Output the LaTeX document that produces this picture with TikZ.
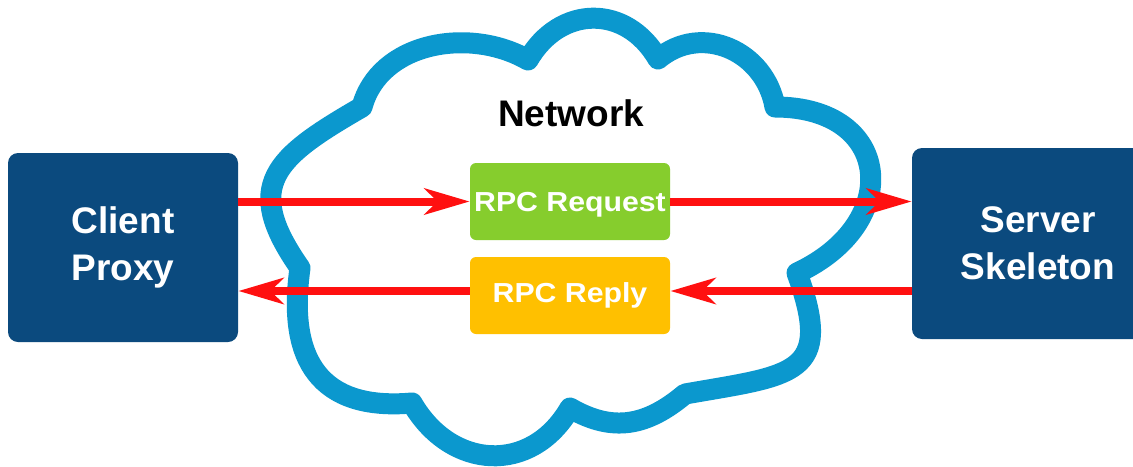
\documentclass[tikz,border=0pt]{standalone}
\usepackage{fontspec}
\usepackage{graphicx}
\setmainfont{Liberation Sans}
\usetikzlibrary{arrows.meta,calc}
\definecolor{boxblue}{HTML}{0B4A7E}
\definecolor{cloudblue}{HTML}{0B98CE}
\definecolor{reqgreen}{HTML}{86CD2D}
\definecolor{repyellow}{HTML}{FFC000}
\definecolor{arrred}{HTML}{FF1010}
\begin{document}
\begin{tikzpicture}[x=0.5pt,y=0.5pt,
  endbox/.style={fill=boxblue, rounded corners=5pt, text=white,
    font=\fontsize{18.5}{23.5}\selectfont\bfseries, align=center, inner sep=0pt},
  msgbox/.style={rounded corners=3pt, text=white,
    font=\fontsize{13.75}{16}\selectfont\bfseries, inner sep=0pt,
    minimum width=100pt, minimum height=38.5pt},
  arr/.style={draw=arrred, line width=4pt,
    -{Stealth[length=22.5pt,width=13pt,inset=6.5pt]}},
  cloudline/.style={draw=cloudblue, line width=10.5pt, line join=round}]
\useasboundingbox (0,0) rectangle (1133,-466);
\fill[white] (0,0) rectangle (1133,-466);
\clip (0,0) rectangle (1133,-466);
% cloud
\draw[cloudline] (362,-107)
  to[out=75,in=150] (528,-60)
  to[out=60,in=120,looseness=1.25] (658,-59)
  to[out=40,in=100,looseness=1.15] (775,-107)
  to[out=0,in=25,looseness=1.8] (797,-273)
  to[out=-70,in=10,looseness=1.7] (685,-394)
  to[out=220,in=-30,looseness=1.1] (570,-408)
  to[out=240,in=-60,looseness=1.25] (412,-403)
  to[out=185,in=-98,looseness=1.35] (300,-268)
  to[out=125,in=210,looseness=1.5] cycle;
\node[font=\fontsize{18.5}{20}\selectfont\bfseries, anchor=base] (net) at (571,-126) {Network};
% boxes
\node[endbox, minimum width=115pt, minimum height=94.5pt] (client) at (123,-247.5) {Client\\Proxy};
\node[endbox, minimum width=126pt, minimum height=95.5pt] (srv) at (1038,-243.5) {Server\\Skeleton};
\node[msgbox, fill=reqgreen, text depth=0pt] (req) at (570,-201.5) {\scalebox{1.1}[1]{RPC Request}};
\node[msgbox, fill=repyellow] (rep) at (570,-295.5) {\scalebox{1.1}[1]{RPC Reply}};
% arrows
\draw[arr] (client.east |- req.west) -- (req.west);
\draw[arr] (req.east) -- (srv.west |- req.east);
\draw[arr] ($(srv.west |- rep.east)+(0,4.5)$) -- ($(rep.east)+(0,4.5)$);
\draw[arr] ($(rep.west)+(0,4.5)$) -- ($(client.east |- rep.west)+(0,4.5)$);
\end{tikzpicture}
\end{document}
